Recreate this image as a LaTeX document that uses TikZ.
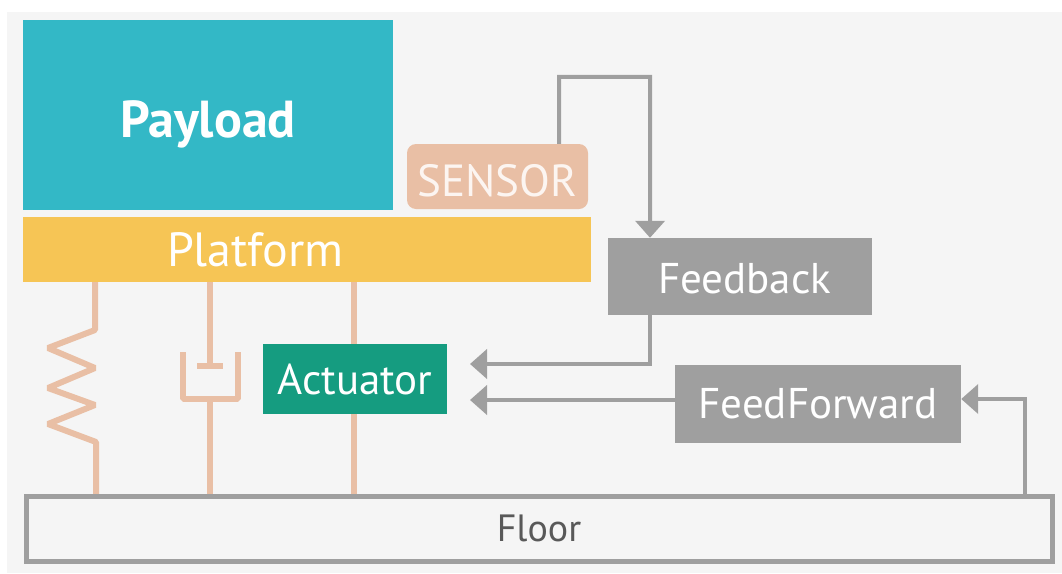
\documentclass[tikz,border=0pt]{standalone}
\usepackage{fontspec}
\setmainfont{PT Sans}
\usetikzlibrary{arrows.meta}
\definecolor{panelc}{HTML}{F5F5F5}
\definecolor{payloadc}{HTML}{33B8C6}
\definecolor{platformc}{HTML}{F6C555}
\definecolor{peachc}{HTML}{E9BFA5}
\definecolor{greyc}{HTML}{9F9F9F}
\definecolor{actuatorc}{HTML}{159C80}
\begin{document}
\begin{tikzpicture}[x=1pt,y=-1pt,
    box/.style={rectangle, inner sep=0pt, text=white, font=\fontsize{43}{43}\selectfont},
    mech/.style={draw=peachc, line width=6pt, line join=bevel},
    link/.style={draw=greyc, line width=4pt},
    linkarrow/.style={link, -{Triangle[length=17pt,width=29pt]}}]
    % Page and panel
    \useasboundingbox (0,0) rectangle (1062,573);
    \fill[white] (0,0) rectangle (1062,573);
    \fill[panelc] (7,12) rectangle (1062,573);
    % Spring, damper and the actuator rod go under the boxes
    \draw[mech] (95,282) -- (95,330) -- (48,348) -- (95,368) -- (48,388)
        -- (95,405) -- (48,424) -- (96,442) -- (96,495);
    \draw[mech] (210,282) -- (210,366);
    \draw[mech] (197,366) -- (223,366);
    \draw[mech] (183,352) -- (183,399) -- (238,399) -- (238,352);
    \draw[mech] (210,399) -- (210,495);
    \draw[mech] (354,282) -- (354,495);
    % Boxes
    \node[box, fill=payloadc, minimum width=370pt, minimum height=190pt, text height=44pt, text depth=0pt,
        font=\fontsize{52}{52}\selectfont\bfseries] (payload) at (208,115) {Payload};
    \node[box, fill=platformc, minimum width=568pt, minimum height=65pt, align=left,
        text width=280pt, inner xsep=144pt, font=\fontsize{48}{48}\selectfont] (platform) at (307,249.5) {Platform};
    \node[box, fill=peachc, rounded corners=9pt, minimum width=181pt, minimum height=65pt, text height=39pt, text depth=0pt,
        text=white!85!peachc, font=\fontsize{45}{45}\selectfont] (sensor) at (497.5,176.5) {SENSOR};
    \node[box, fill=greyc, minimum width=264pt, minimum height=77pt, align=left, text width=164pt, inner xsep=50pt,
        text height=33pt, text depth=0pt] (feedback) at (740,276.5) {Feedback};
    \node[box, fill=actuatorc, minimum width=184pt, minimum height=70pt] (actuator) at (355,379) {Actuator};
    \node[box, fill=greyc, minimum width=286pt, minimum height=78pt] (feedforward) at (818,404) {FeedForward};
    \node[box, draw=greyc, line width=5pt, fill=panelc, text=black!65, minimum width=1026pt,
        minimum height=65pt, font=\fontsize{38}{38}\selectfont] (floor) at (539,528.5) {Floor};
    % Free ends next to the actuator
    \coordinate (fbin) at (470,364);
    \coordinate (ffin) at (470,400);
    % Signal lines
    \draw[linkarrow] ([xshift=-29pt]sensor.north east) |- ++(91,-67) -- ++(0,94) -- (feedback.north -| 650,0);
    \draw[linkarrow] (feedback.south -| 650,0) |- (fbin);
    \draw[linkarrow] (feedforward.west |- ffin) -- (ffin);
    \draw[linkarrow] (floor.north -| 1025,0) |- (feedforward.east |- 0,399);
\end{tikzpicture}
\end{document}
